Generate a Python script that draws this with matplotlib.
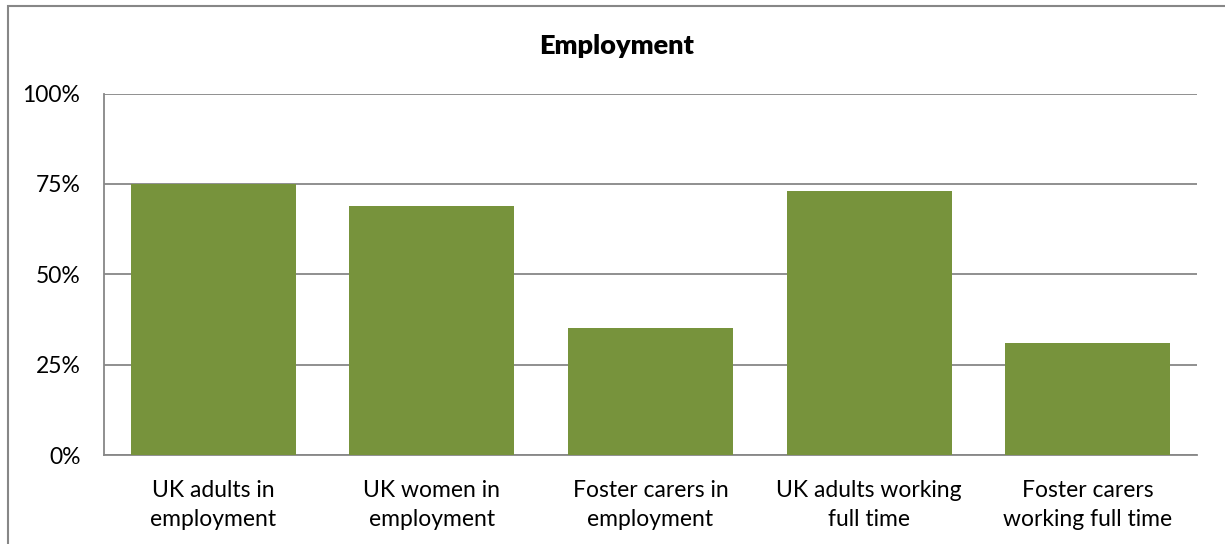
import matplotlib
matplotlib.use('Agg')
import matplotlib.pyplot as plt
from matplotlib.patches import Rectangle
from matplotlib.ticker import FuncFormatter

# employment shares, percent
categories = ['UK adults in\nemployment', 'UK women in\nemployment', 'Foster carers in\nemployment',
              'UK adults working\nfull time', 'Foster carers\nworking full time']
values = [75, 69, 35, 73, 31]
yticks = [0, 25, 50, 75, 100]

plt.rcParams['font.family'] = ['Lato', 'DejaVu Sans']

fig = plt.figure(figsize=(12.25, 5.44), dpi=100)
ax = fig.add_axes([104/1225, 1 - 455/544, (1197 - 104)/1225, (455 - 93.5)/544])

grey = '#878787'
ax.bar(range(len(values)), values, width=0.755, color='#77933C', zorder=3)

ax.set_xlim(-0.5, len(values) - 0.5)
ax.set_ylim(0, 100)
ax.set_yticks(yticks)
ax.yaxis.set_major_formatter(FuncFormatter(lambda v, p: f'{v:.0f}%'))
ax.set_xticks(range(len(values)))
ax.set_xticklabels(categories, fontsize=16.5, linespacing=1.45)
ax.tick_params(axis='y', labelsize=16.5, length=0, pad=17)
ax.tick_params(axis='x', length=0, pad=18)
ax.grid(axis='y', color=grey, linewidth=1.3, zorder=0)

for s in ['top', 'right']:
    ax.spines[s].set_visible(False)
for s in ['left', 'bottom']:
    ax.spines[s].set_color(grey)
    ax.spines[s].set_linewidth(1.3)

fig.text(617/1225, 1 - 46/544, 'Employment', ha='center', va='center',
         fontsize=19.5, fontweight='heavy')

# chart frame, runs off the right and bottom edges
fig.patches.append(Rectangle((8/1225, -0.05), 1.1, 1 - 6/544 + 0.05, transform=fig.transFigure,
                             fill=False, edgecolor=grey, linewidth=1.5))

fig.savefig('out.png', dpi=100)
